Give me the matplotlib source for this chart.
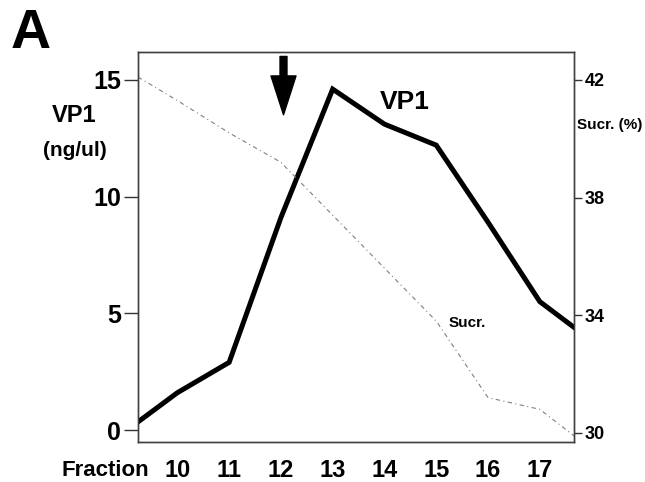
import matplotlib
matplotlib.use("Agg")
import matplotlib.pyplot as plt
from matplotlib import font_manager

# values
fraction = [9.24, 10, 11, 12, 13, 14, 15, 16, 17, 17.66]
vp1 = [0.35, 1.6, 2.9, 9.1, 14.6, 13.1, 12.2, 8.9, 5.5, 4.4]
sucrose = [42.1, 41.3, 40.2, 39.2, 37.4, 35.6, 33.8, 31.2, 30.8, 29.9]

fraction_ticks = [10, 11, 12, 13, 14, 15, 16, 17]
vp1_ticks = [0, 5, 10, 15]
sucrose_ticks = [30, 34, 38, 42]
arrow_fraction = 12.05

names = {f.name for f in font_manager.fontManager.ttflist}
narrow = ["Liberation Sans Narrow", "DejaVu Sans"] if "Liberation Sans Narrow" in names else ["Liberation Sans", "DejaVu Sans"]

fig = plt.figure(figsize=(6.45, 4.82), dpi=100)
ax = fig.add_axes([138 / 645, 1 - 442 / 482, 436 / 645, 390 / 482])
ax2 = ax.twinx()

ax.plot(fraction, vp1, color="black", linewidth=3.6, solid_joinstyle="miter", zorder=3)
ax2.plot(fraction, sucrose, color="0.5", linewidth=0.8, linestyle=(0, (4, 3, 1, 3)))

ax.set_xlim(fraction[0], fraction[-1])
ax.set_ylim(-0.51, 16.19)
ax2.set_ylim(29.69, 42.95)

ax.set_xticks(fraction_ticks)
ax.set_xticklabels([str(t) for t in fraction_ticks], family=narrow, fontweight="bold", fontsize=17)
ax.tick_params(axis="x", length=0, pad=12)

ax.set_yticks(vp1_ticks)
ax.set_yticklabels([str(t) for t in vp1_ticks], family=narrow, fontweight="bold", fontsize=18)
ax.tick_params(axis="y", length=10, width=1.0, pad=2, color="0.2")

ax2.set_yticks(sucrose_ticks)
ax2.set_yticklabels([str(t) for t in sucrose_ticks], family=narrow, fontweight="bold", fontsize=13)
ax2.tick_params(axis="y", length=6, width=1.0, pad=2, color="0.2")

for a in (ax, ax2):
    for s in a.spines.values():
        s.set_linewidth(1.0)
        s.set_color("0.25")

# arrow marking the peak fraction
ax.annotate("", xy=(arrow_fraction, 13.5), xytext=(arrow_fraction, 16.0),
            arrowprops=dict(facecolor="black", edgecolor="black", width=5,
                            headwidth=18, headlength=28, shrink=0),
            annotation_clip=False)

ax.text(14.4, 14.05, "VP1", family=narrow, fontweight="bold", fontsize=19,
        ha="center", va="center")
ax.text(15.6, 4.6, "Sucr.", family=narrow, fontweight="bold", fontsize=11,
        ha="center", va="center")

fig.text(74 / 645, 1 - 116 / 482, "VP1", family=narrow, fontweight="bold",
         fontsize=17, ha="center", va="center")
fig.text(75 / 645, 1 - 150 / 482, "(ng/ul)", family=narrow, fontweight="bold",
         fontsize=15, ha="center", va="center")
fig.text(577 / 645, 1 - 125 / 482, "Sucr. (%)", family=narrow, fontweight="bold",
         fontsize=11, ha="left", va="center")
fig.text(105 / 645, 1 - 470 / 482, "Fraction", family=narrow, fontweight="bold",
         fontsize=16, ha="center", va="center")
fig.text(11 / 645, 1 - 34 / 482, "A", family=["Liberation Sans", "DejaVu Sans"],
         fontweight="bold", fontsize=40, ha="left", va="center")

fig.savefig("out.png", dpi=100)
